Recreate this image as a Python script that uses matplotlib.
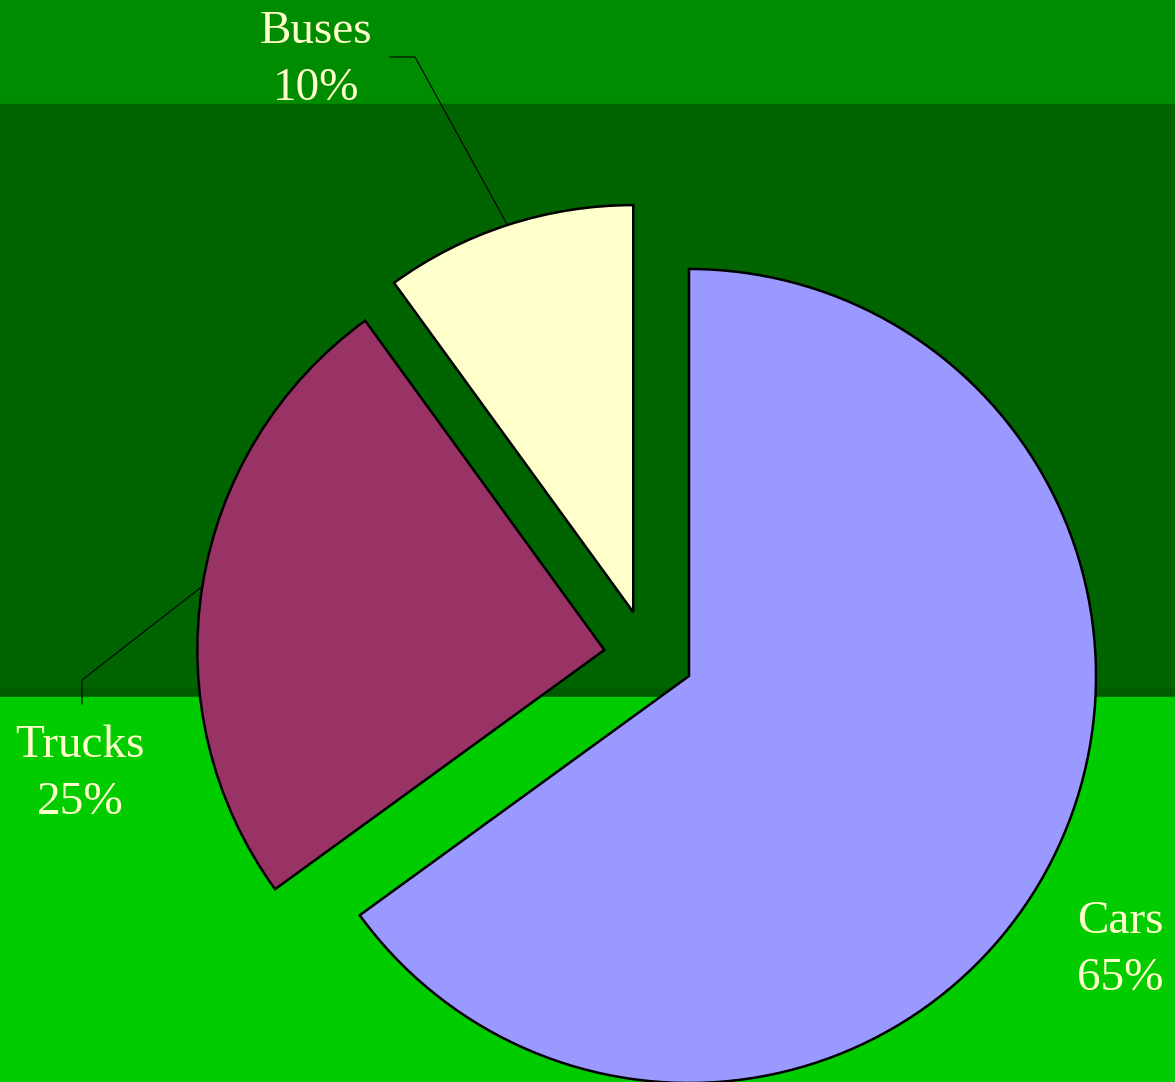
import numpy as np
import matplotlib
matplotlib.use('Agg')
import matplotlib.pyplot as plt

# données
categories = ['Cars', 'Trucks', 'Buses']
valeurs = [65, 25, 10]
couleurs = ['#9999FF', '#993366', '#FFFFCC']

# décalage des parts (en rayons), comme dans l'original
decalages = [(0.0, 0.0), (-0.208, 0.064), (-0.137, 0.157)]

W, H = 1175, 1082
cx, cy, r_px = 689, 676, 407

def px(x, y):
    """pixel -> coordonnées données"""
    return (x - cx) / r_px, (cy - y) / r_px

fig = plt.figure(figsize=(W / 100, H / 100), dpi=100, facecolor='#00CC00')
ax = fig.add_axes([0, 0, 1, 1])

wedges, _ = ax.pie(valeurs, colors=couleurs, startangle=90, counterclock=False,
                   radius=1.0,
                   wedgeprops=dict(edgecolor='black', linewidth=1.8))
for w, (dx, dy) in zip(wedges, decalages):
    w.set_center((dx, dy))

x0, y0 = px(0, H)
x1, y1 = px(W, 0)
ax.set_xlim(x0, x1)
ax.set_ylim(y0, y1)
ax.set_aspect('equal')
ax.axis('off')

## bandes de fond
ax.axhspan(px(0, 104)[1], y1, color='#008C00', zorder=-3)
ax.axhspan(px(0, 688)[1], px(0, 104)[1], color='#006400', zorder=-3)
ax.axhspan(px(0, 697)[1], px(0, 688)[1], color='#005A00', zorder=-3)
ax.axhspan(y0, px(0, 697)[1], color='#00CC00', zorder=-3)

def milieu_arc(w):
    a = np.deg2rad((w.theta1 + w.theta2) / 2)
    c = w.center
    return c[0] + w.r * np.cos(a), c[1] + w.r * np.sin(a)

## traits de rappel
bx, by = milieu_arc(wedges[2])
p1, p2 = px(390, 57), px(415, 57)
ax.plot([p1[0], p2[0], bx], [p1[1], p2[1], by], color='black', lw=0.8)
tx, ty = milieu_arc(wedges[1])
q1, q2 = px(82, 704), px(82, 680)
ax.plot([q1[0], q2[0], tx], [q1[1], q2[1], ty], color='black', lw=0.8)

## étiquettes
positions = [px(1120, 950), px(80, 774), px(316, 60)]
for cat, v, (lx, ly) in zip(categories, valeurs, positions):
    ax.text(lx, ly, f'{cat}\n{v}%', ha='center', va='center',
            fontsize=34, color='#FFFFCC', family='Liberation Serif',
            linespacing=1.45)

fig.savefig('out.png', dpi=100, facecolor=fig.get_facecolor())
